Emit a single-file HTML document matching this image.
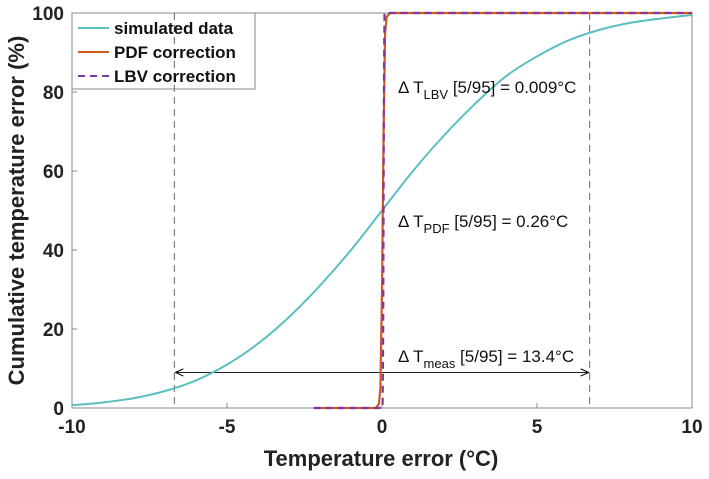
<!DOCTYPE html>
<html><head><meta charset="utf-8"><style>
body{margin:0;background:#fff}
svg text{font-family:"Liberation Sans",Arial,sans-serif}
</style></head><body>
<svg id="chart" width="709" height="474" xmlns="http://www.w3.org/2000/svg"></svg>
<script>
const simX=[-10,-9,-8,-7,-6,-5,-4,-3,-2,-1,0,1,2,3,4,5,6,7,8,9,10];
const simY=[0.7,1.4,2.5,4.3,7,11,16.3,23,31,40,50,60,69,77,84,89,93,95.7,97.5,98.6,99.5];
const pdfX=[-2.2,-0.2,-0.1,-0.05,0,0.05,0.1,0.15,0.25,10];
const pdfY=[0,0,1,5,30,70,95,99,100,100];
const lbvX=[-2.2,0.02,0.04,0.06,0.08,10];
const lbvY=[0,0,20,80,100,100];
const xTicks=[-10,-5,0,5,10];
const yTicks=[0,20,40,60,80,100];
const p5=-6.7,p95=6.7,arrowY=9;
const L=72,R=692,T=13,B=408;
const sx=v=>L+(v+10)/20*(R-L);
const sy=v=>B-v/100*(B-T);
const svg=document.getElementById('chart');
const NS='http://www.w3.org/2000/svg';
function mk(tag,attrs,parent){const e=document.createElementNS(NS,tag);for(const k in attrs)e.setAttribute(k,attrs[k]);(parent||svg).appendChild(e);return e;}
function txt(x,y,s,attrs,parent){const e=mk('text',Object.assign({x:x,y:y},attrs),parent);e.textContent=s;return e;}
const defs=mk('defs',{});
const mkr=mk('marker',{id:'ah',markerWidth:10,markerHeight:10,refX:9,refY:5,orient:'auto-start-reverse'},defs);
mk('path',{d:'M0,1 L9,5 L0,9',fill:'none',stroke:'#000','stroke-width':1.2},mkr);
let e=mk('rect',{x:L,y:T,width:R-L,height:B-T,fill:'none',stroke:'#8a8a8a','stroke-width':1});

xTicks.forEach(v=>{
 let l=mk('line',{x1:sx(v),x2:sx(v),y1:B,y2:B-5,stroke:'#8a8a8a'});
 
 let t=txt(sx(v),433,String(v),{'font-size':19,'font-weight':'bold','text-anchor':'middle',fill:'#222'});
 
});
yTicks.forEach(v=>{
 let l=mk('line',{x1:L,x2:L+5,y1:sy(v),y2:sy(v),stroke:'#8a8a8a'});
 
 let t=txt(64,sy(v)+7,String(v),{'font-size':19,'font-weight':'bold','text-anchor':'end',fill:'#222'});
 
});
e=txt(381,466,'Temperature error (°C)',{'font-size':22,'font-weight':'bold','text-anchor':'middle',fill:'#222'});

e=txt(0,0,'Cumulative temperature error (%)',{'font-size':22,'font-weight':'bold','text-anchor':'middle',fill:'#222',transform:'translate(24,'+((T+B)/2)+') rotate(-90)'});

[p5,p95].forEach(v=>{
 let l=mk('line',{x1:sx(v),x2:sx(v),y1:T,y2:B,stroke:'#555','stroke-dasharray':'7,5','stroke-width':0.9});
 
});
e=mk('line',{x1:sx(p5)+1,x2:sx(p95)-1,y1:sy(arrowY),y2:sy(arrowY),stroke:'#000','stroke-width':0.9,'marker-start':'url(#ah)','marker-end':'url(#ah)'});

function path(xs,ys,attrs,name){const d=xs.map((x,i)=>(i?'L':'M')+sx(x).toFixed(1)+','+sy(ys[i]).toFixed(1)).join(' ');const p=mk('path',Object.assign({d:d,fill:'none'},attrs));}
function smooth(xs,ys,attrs,name){const P=xs.map((x,i)=>[sx(x),sy(ys[i])]);let d='M'+P[0][0].toFixed(1)+','+P[0][1].toFixed(1);
 for(let i=0;i<P.length-1;i++){const p0=P[Math.max(i-1,0)],p1=P[i],p2=P[i+1],p3=P[Math.min(i+2,P.length-1)];
  const c1=[p1[0]+(p2[0]-p0[0])/6,p1[1]+(p2[1]-p0[1])/6],c2=[p2[0]-(p3[0]-p1[0])/6,p2[1]-(p3[1]-p1[1])/6];
  d+=' C'+c1.map(v=>v.toFixed(1)).join(',')+' '+c2.map(v=>v.toFixed(1)).join(',')+' '+p2.map(v=>v.toFixed(1)).join(',');}
 const p=mk('path',Object.assign({d:d,fill:'none'},attrs));}
smooth(simX,simY,{stroke:'#5cbfbf','stroke-width':2},'simulated-data-line');
path(pdfX,pdfY,{stroke:'#d2581f','stroke-width':2.2},'pdf-correction-line');
path(lbvX,lbvY,{stroke:'#7a3aa0','stroke-width':2.2,'stroke-dasharray':'7,5'},'lbv-correction-line');
function ann(y,sub,rest,name){const t=mk('text',{x:398,y:y,'font-size':17,fill:'#111'});
 t.innerHTML='Δ T<tspan dy="6" font-size="13">'+sub+'</tspan><tspan dy="-6"> '+rest+'</tspan>';}
ann(93,'LBV','[5/95] = 0.009°C','lbv-annotation');
ann(227,'PDF','[5/95] = 0.26°C','pdf-annotation');
ann(362,'meas','[5/95] = 13.4°C','meas-annotation');
const lg=mk('g',{});
mk('rect',{x:L,y:T,width:183,height:76,fill:'#fff',stroke:'#8a8a8a'},lg);
mk('line',{x1:sx(p5),x2:sx(p5),y1:T,y2:T+76,stroke:'#555','stroke-dasharray':'7,5','stroke-width':0.9},lg);
const items=[['simulated data','#5cbfbf',''],['PDF correction','#d2581f',''],['LBV correction','#7a3aa0','7,5']];
items.forEach((it,i)=>{const y=T+15+i*24;
 const g=mk('g',{},lg);
 mk('line',{x1:78,x2:109,y1:y,y2:y,stroke:it[1],'stroke-width':2,'stroke-dasharray':it[2]},g);
 txt(114,y+6,it[0],{'font-size':17,'font-weight':'bold',fill:'#111'},g);
});
</script>
</body></html>
